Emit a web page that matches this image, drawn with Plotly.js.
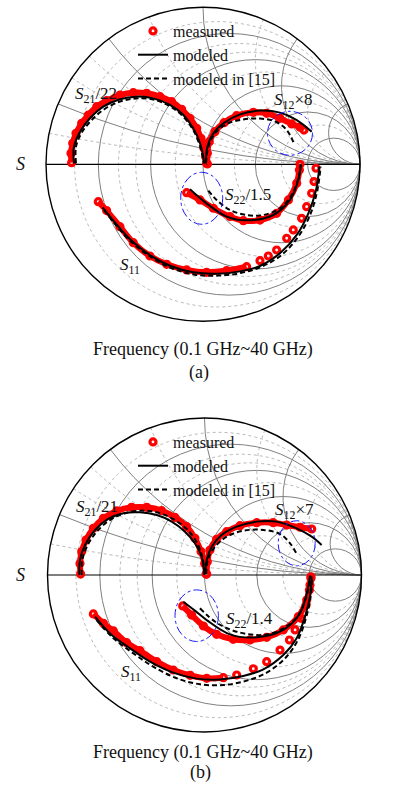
<!DOCTYPE html>
<html><head><meta charset="utf-8">
<script src="https://cdn.plot.ly/plotly-3.0.1.min.js"></script>
<style>html,body{margin:0;padding:0;background:#fff}#chart{width:393px;height:809px}</style>
</head><body><div id="chart"></div>
<script>
// ---- Data: reflection-coefficient points [Re(Γ), Im(Γ)] ----
// Chart (a)
const A_S21_MEAS = [[-0.837,0.010],[-0.841,0.070],[-0.830,0.134],[-0.809,0.197],[-0.773,0.261],[-0.730,0.314],[-0.677,0.367],[-0.614,0.405],[-0.529,0.441],[-0.444,0.456],[-0.359,0.452],[-0.274,0.431],[-0.200,0.399],[-0.136,0.350],[-0.083,0.293],[-0.040,0.229],[-0.013,0.166],[0.006,0.102],[0.017,0.048],[0.023,0.006]];
const A_S21_MOD = [[-0.822,0.006],[-0.822,0.112],[-0.783,0.208],[-0.720,0.293],[-0.635,0.367],[-0.529,0.414],[-0.423,0.431],[-0.316,0.420],[-0.210,0.378],[-0.125,0.314],[-0.062,0.229],[-0.019,0.134],[0.002,0.048],[0.006,0.006]];
const A_S21_REF = [[-0.809,0.006],[-0.809,0.112],[-0.773,0.201],[-0.709,0.282],[-0.624,0.354],[-0.518,0.403],[-0.412,0.420],[-0.306,0.410],[-0.206,0.367],[-0.125,0.303],[-0.062,0.218],[-0.023,0.129],[-0.002,0.048],[0.006,0.006]];
const A_S12_MEAS = [[0.028,0.002],[0.028,0.070],[0.040,0.144],[0.076,0.208],[0.134,0.265],[0.214,0.310],[0.321,0.331],[0.406,0.325],[0.490,0.293],[0.565,0.257],[0.618,0.236],[0.643,0.218]];
const A_S12_MOD = [[0.019,0.006],[0.028,0.112],[0.066,0.197],[0.130,0.261],[0.236,0.318],[0.363,0.342],[0.490,0.329],[0.597,0.282],[0.692,0.208]];
const A_S12_REF = [[0.019,0.006],[0.034,0.112],[0.076,0.197],[0.151,0.257],[0.257,0.286],[0.363,0.291],[0.448,0.278],[0.512,0.240],[0.554,0.187],[0.580,0.129]];
const A_S22_MEAS = [[-0.104,-0.181],[-0.019,-0.227],[0.066,-0.280],[0.172,-0.333],[0.257,-0.359],[0.363,-0.355],[0.469,-0.312],[0.544,-0.227],[0.597,-0.121],[0.614,-0.036],[0.618,0.000]];
const A_S22_MOD = [[-0.083,-0.159],[0.023,-0.249],[0.151,-0.333],[0.278,-0.357],[0.448,-0.323],[0.554,-0.227],[0.607,-0.100],[0.624,0.000]];
const A_S22_REF = [[0.034,-0.168],[0.087,-0.227],[0.172,-0.291],[0.278,-0.323],[0.384,-0.323],[0.490,-0.280],[0.565,-0.195],[0.607,-0.089],[0.622,-0.004]];
const A_S11_MEAS = [[-0.667,-0.238],[-0.614,-0.295],[-0.529,-0.397],[-0.444,-0.499],[-0.338,-0.584],[-0.231,-0.637],[-0.104,-0.673],[0.023,-0.688],[0.151,-0.677],[0.278,-0.652],[0.363,-0.614],[0.416,-0.584],[0.469,-0.546],[0.533,-0.471],[0.575,-0.418],[0.628,-0.344],[0.660,-0.270],[0.692,-0.185],[0.707,-0.110],[0.720,-0.025]];
const A_S11_MOD = [[-0.639,-0.274],[-0.571,-0.359],[-0.465,-0.478],[-0.338,-0.578],[-0.210,-0.646],[-0.062,-0.688],[0.087,-0.697],[0.236,-0.682],[0.363,-0.648],[0.490,-0.567],[0.597,-0.450],[0.671,-0.312],[0.720,-0.164],[0.741,-0.015]];
const A_S11_REF = [[-0.631,-0.291],[-0.561,-0.380],[-0.454,-0.497],[-0.327,-0.594],[-0.200,-0.662],[-0.051,-0.703],[0.098,-0.709],[0.246,-0.691],[0.374,-0.652],[0.501,-0.577],[0.607,-0.461],[0.682,-0.323],[0.728,-0.168],[0.749,-0.015]];
// Chart (b)
const B_S21_MEAS = [[-0.789,0.006],[-0.793,0.074],[-0.782,0.149],[-0.755,0.223],[-0.708,0.297],[-0.644,0.361],[-0.559,0.408],[-0.464,0.431],[-0.368,0.431],[-0.273,0.410],[-0.188,0.367],[-0.114,0.308],[-0.061,0.234],[-0.022,0.149],[0.001,0.074],[0.010,0.006]];
const B_S21_MOD = [[-0.797,0.000],[-0.793,0.096],[-0.761,0.191],[-0.697,0.287],[-0.613,0.357],[-0.517,0.393],[-0.411,0.399],[-0.304,0.382],[-0.209,0.340],[-0.124,0.276],[-0.061,0.202],[-0.018,0.117],[-0.001,0.000]];
const B_S21_REF = [[-0.782,0.000],[-0.778,0.096],[-0.746,0.187],[-0.687,0.276],[-0.602,0.350],[-0.496,0.397],[-0.390,0.410],[-0.283,0.393],[-0.188,0.350],[-0.107,0.287],[-0.046,0.202],[-0.012,0.106],[0.003,0.000]];
const B_S12_MEAS = [[0.014,0.006],[0.018,0.085],[0.035,0.159],[0.077,0.227],[0.141,0.276],[0.226,0.314],[0.332,0.333],[0.438,0.333],[0.523,0.318],[0.608,0.304],[0.683,0.293]];
const B_S12_MOD = [[0.005,0.006],[0.014,0.096],[0.046,0.180],[0.109,0.255],[0.205,0.308],[0.332,0.340],[0.459,0.340],[0.587,0.297],[0.683,0.244],[0.746,0.191]];
const B_S12_REF = [[0.010,0.006],[0.024,0.106],[0.067,0.180],[0.141,0.244],[0.248,0.282],[0.375,0.287],[0.481,0.261],[0.545,0.202],[0.587,0.134]];
const B_S22_MEAS = [[-0.139,-0.197],[-0.082,-0.255],[-0.007,-0.325],[0.077,-0.378],[0.183,-0.410],[0.290,-0.414],[0.396,-0.397],[0.502,-0.350],[0.598,-0.265],[0.651,-0.159],[0.672,-0.064],[0.678,-0.011]];
const B_S22_MOD = [[-0.135,-0.170],[-0.061,-0.227],[0.014,-0.287],[0.162,-0.378],[0.332,-0.397],[0.502,-0.350],[0.608,-0.244],[0.661,-0.074],[0.672,-0.004]];
const B_S22_REF = [[-0.029,-0.212],[0.077,-0.304],[0.205,-0.361],[0.375,-0.382],[0.502,-0.340],[0.598,-0.255],[0.655,-0.117],[0.676,-0.004]];
const B_S11_MEAS = [[-0.708,-0.248],[-0.644,-0.308],[-0.581,-0.355],[-0.496,-0.431],[-0.411,-0.482],[-0.304,-0.552],[-0.199,-0.605],[-0.092,-0.639],[0.014,-0.658],[0.120,-0.654],[0.205,-0.637],[0.311,-0.597],[0.396,-0.552],[0.481,-0.478],[0.541,-0.414],[0.577,-0.350],[0.615,-0.276],[0.647,-0.191],[0.668,-0.096],[0.678,-0.021]];
const B_S11_MOD = [[-0.697,-0.265],[-0.602,-0.372],[-0.474,-0.467],[-0.347,-0.552],[-0.199,-0.622],[-0.050,-0.660],[0.098,-0.665],[0.247,-0.643],[0.375,-0.601],[0.502,-0.510],[0.587,-0.403],[0.640,-0.265],[0.672,-0.138],[0.683,-0.011]];
const B_S11_REF = [[-0.687,-0.287],[-0.591,-0.393],[-0.453,-0.499],[-0.326,-0.584],[-0.177,-0.658],[-0.029,-0.696],[0.120,-0.701],[0.269,-0.673],[0.396,-0.622],[0.513,-0.531],[0.593,-0.418],[0.646,-0.276],[0.676,-0.138],[0.687,-0.011]];

// Number of low-frequency points in S11 where measured markers merge into a band
const A_S11_BAND = 10, B_S11_BAND = 10;

// Text
const LEGEND_NAMES = ['measured', 'modeled', 'modeled in [15]'];
const A_LABELS = ['<i>S</i><sub>21</sub>/22', '<i>S</i><sub>12</sub>×8', '<i>S</i><sub>22</sub>/1.5', '<i>S</i><sub>11</sub>'];
const B_LABELS = ['<i>S</i><sub>21</sub>/21', '<i>S</i><sub>12</sub>×7', '<i>S</i><sub>22</sub>/1.4', '<i>S</i><sub>11</sub>'];
const X_CAPTION = 'Frequency (0.1 GHz~40 GHz)';
const PANEL_TAGS = ['(a)', '(b)'];

// Smith grid values
const MAJOR_R = [0.2, 0.5, 1, 2, 5];
const MAJOR_X = [0.2, 0.5, 1, 2, 5];
const MINOR_R = [0.1, 0.3, 0.4, 0.7, 1.5, 3];
const MINOR_X = [0.1, 0.3, 0.4, 0.7, 1.5, 3];

// ---- helpers ----
const W = 393, H = 809;
const FONT = 'Liberation Serif, Times New Roman, serif';
function zOf(pts) { // Γ -> normalized impedance for scattersmith
  const real = [], imag = [];
  pts.forEach(([a, b]) => {
    const d = (1 - a) * (1 - a) + b * b;
    real.push((1 - a * a - b * b) / d);
    imag.push(2 * b / d);
  });
  return {real, imag};
}
const px = x => x / W, py = y => 1 - y / H;

const RED = '#ff0000';
const traces = [];
function addChart(lowSub, topSub, legendId, D, bandN) {
  // invisible point (first modeled S21 value) so the minor-grid subplot is created
  const z0 = zOf(D.s21mod.slice(0, 1));
  traces.push({type: 'scattersmith', subplot: lowSub, real: z0.real, imag: z0.imag, mode: 'markers',
    marker: {opacity: 0}, hoverinfo: 'skip', showlegend: false});
  const meas = [D.s21meas, D.s12meas, D.s22meas, D.s11meas];
  const mods = [D.s21mod, D.s12mod, D.s22mod, D.s11mod];
  const refs = [D.s21ref, D.s12ref, D.s22ref, D.s11ref];
  meas.forEach((m, i) => {
    const src = i === 3 ? m.slice(0, bandN) : m;
    const z = zOf(src);
    traces.push({type: 'scattersmith', subplot: topSub, real: z.real, imag: z.imag, mode: 'lines',
      line: {color: RED, width: 6, shape: 'spline'}, hoverinfo: 'skip', showlegend: false});
  });
  meas.forEach((m, i) => {
    const z = zOf(m);
    traces.push({type: 'scattersmith', subplot: topSub, real: z.real, imag: z.imag, mode: 'markers',
      name: LEGEND_NAMES[0], legend: legendId, legendrank: 1, showlegend: i === 0,
      marker: {symbol: 'circle-open', size: 6, color: RED, line: {width: 3.2, color: RED}}, hoverinfo: 'skip'});
  });
  refs.forEach((m, i) => {
    const z = zOf(m);
    traces.push({type: 'scattersmith', subplot: topSub, real: z.real, imag: z.imag, mode: 'lines',
      name: LEGEND_NAMES[2], legend: legendId, legendrank: 3, showlegend: i === 0,
      line: {color: '#000', width: 2, dash: '5px,3px', shape: 'spline'}, hoverinfo: 'skip'});
  });
  mods.forEach((m, i) => {
    const z = zOf(m);
    traces.push({type: 'scattersmith', subplot: topSub, real: z.real, imag: z.imag, mode: 'lines',
      name: LEGEND_NAMES[1], legend: legendId, legendrank: 2, showlegend: i === 0,
      line: {color: '#000', width: 2, shape: 'spline'}, hoverinfo: 'skip'});
  });
}
addChart('smith', 'smith2', 'legend', {s21meas: A_S21_MEAS, s21mod: A_S21_MOD, s21ref: A_S21_REF,
  s12meas: A_S12_MEAS, s12mod: A_S12_MOD, s12ref: A_S12_REF, s22meas: A_S22_MEAS, s22mod: A_S22_MOD, s22ref: A_S22_REF,
  s11meas: A_S11_MEAS, s11mod: A_S11_MOD, s11ref: A_S11_REF}, A_S11_BAND);
addChart('smith3', 'smith4', 'legend2', {s21meas: B_S21_MEAS, s21mod: B_S21_MOD, s21ref: B_S21_REF,
  s12meas: B_S12_MEAS, s12mod: B_S12_MOD, s12ref: B_S12_REF, s22meas: B_S22_MEAS, s22mod: B_S22_MOD, s22ref: B_S22_REF,
  s11meas: B_S11_MEAS, s11mod: B_S11_MOD, s11ref: B_S11_REF}, B_S11_BAND);

function smithLayout(cx, cy, R, minor) {
  const ax = (vals, isReal) => ({
    tickvals: vals, showticklabels: false, ticks: '', showgrid: true,
    gridcolor: minor ? '#b8b8b8' : '#808080', gridwidth: 1, griddash: minor ? 'dot' : 'solid',
    showline: !minor, linecolor: '#000', linewidth: isReal ? 1.2 : 1.4, layer: 'below traces'
  });
  return {
    domain: {x: [px(cx - R), px(cx + R)], y: [py(cy + R), py(cy - R)]},
    bgcolor: minor ? '#fff' : 'rgba(0,0,0,0)',
    realaxis: ax(minor ? MINOR_R : MAJOR_R, true),
    imaginaryaxis: ax(minor ? MINOR_X : MAJOR_X, false)
  };
}

const C1 = {cx: 203, cy: 164.3, R: 157};
const C2 = {cx: 204.5, cy: 575, R: 157};

const ann = (text, x, y, size, anchor) => ({text, x: px(x), y: py(y), xref: 'paper', yref: 'paper',
  xanchor: anchor || 'left', yanchor: 'middle', showarrow: false, font: {family: FONT, size, color: '#111'}});

const annotations = [
  ann('<i>S</i>', 20, 164, 18, 'center'),
  ann(A_LABELS[0], 73, 95, 17), ann(A_LABELS[1], 272, 101, 17), ann(A_LABELS[2], 223, 196, 17), ann(A_LABELS[3], 118, 266, 17),
  ann(X_CAPTION, 203, 349, 18, 'center'), ann(PANEL_TAGS[0], 199, 372, 18, 'center'),
  ann('<i>S</i>', 20, 575, 18, 'center'),
  ann(B_LABELS[0], 74, 508, 17), ann(B_LABELS[1], 273, 511, 17), ann(B_LABELS[2], 224, 620, 17), ann(B_LABELS[3], 119, 673, 17),
  ann(X_CAPTION, 203, 752, 18, 'center'), ann(PANEL_TAGS[1], 200, 772, 18, 'center')
];

const ell = (cx, cy, rx, ry) => ({type: 'circle', xref: 'paper', yref: 'paper',
  x0: px(cx - rx), x1: px(cx + rx), y0: py(cy + ry), y1: py(cy - ry),
  line: {color: '#1a1aff', width: 1, dash: 'dashdot'}});
const shapes = [
  ell(290, 133.3, 22.5, 22), ell(201.7, 198.3, 21, 26),
  ell(296.7, 543.3, 18.5, 22.5), ell(196.7, 615.7, 21.7, 25.8)
];

const legendStyle = (y) => ({x: px(133), y: py(y), xanchor: 'left', yanchor: 'top', bgcolor: 'rgba(0,0,0,0)',
  borderwidth: 0, font: {family: FONT, size: 16, color: '#111'}, itemwidth: 30, tracegroupgap: 0});

const layout = {
  width: W, height: H, margin: {l: 0, r: 0, t: 0, b: 0}, paper_bgcolor: '#fff',
  showlegend: true,
  smith: smithLayout(C1.cx, C1.cy, C1.R, true),
  smith2: smithLayout(C1.cx, C1.cy, C1.R, false),
  smith3: smithLayout(C2.cx, C2.cy, C2.R, true),
  smith4: smithLayout(C2.cx, C2.cy, C2.R, false),
  legend: legendStyle(14),
  legend2: legendStyle(425),
  annotations, shapes
};

Plotly.newPlot('chart', traces, layout, {staticPlot: true, displayModeBar: false});
</script></body></html>
